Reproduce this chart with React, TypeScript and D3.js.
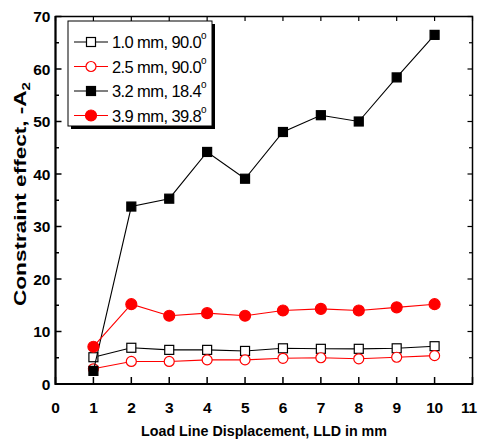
import React, { useRef, useEffect } from 'react';
import * as d3 from 'd3';

// values
const lld = [1, 2, 3, 4, 5, 6, 7, 8, 9, 10];
const s10_90 = [5.1, 6.9, 6.5, 6.5, 6.3, 6.8, 6.7, 6.7, 6.8, 7.2];
const s25_90 = [2.9, 4.3, 4.3, 4.6, 4.6, 4.9, 5.0, 4.8, 5.1, 5.4];
const s32_18 = [2.5, 33.8, 35.3, 44.2, 39.1, 48.0, 51.2, 50.0, 58.4, 66.5];
const s39_40 = [7.1, 15.2, 13.0, 13.5, 13.0, 14.0, 14.3, 14.0, 14.6, 15.2];
const seriesNames = ['1.0 mm, 90.0', '2.5 mm, 90.0', '3.2 mm, 18.4', '3.9 mm, 39.8'];
const xTicks = d3.range(0, 12);
const yTicks = d3.range(0, 80, 10);

const W = 479;
const H = 441;

export default function App() {
  const box = useRef<SVGSVGElement>(null);

  useEffect(() => {
    const svg = d3.select(box.current);
    svg.selectAll('*').remove();

    const x = d3.scaleLinear().domain([0, 11]).range([55.5, 472.5]);
    const y = d3.scaleLinear().domain([0, 70]).range([384, 16.5]);
    const font = 'Liberation Sans, Arial, sans-serif';

    const series = [
      { name: seriesNames[0], vals: s10_90, color: '#000', shape: 'square', fill: '#fff' },
      { name: seriesNames[1], vals: s25_90, color: '#ff0000', shape: 'circle', fill: '#fff' },
      { name: seriesNames[2], vals: s32_18, color: '#000', shape: 'square', fill: '#000' },
      { name: seriesNames[3], vals: s39_40, color: '#ff0000', shape: 'circle', fill: '#ff0000' },
    ];

    const drawMarker = (g, s, cx, cy) => {
      if (s.shape === 'square') {
        g.append('rect')
          .attr('x', cx - 4.5).attr('y', cy - 4.5)
          .attr('width', 9).attr('height', 9)
          .attr('fill', s.fill).attr('stroke', s.color).attr('stroke-width', 1.2);
      } else {
        g.append('circle')
          .attr('cx', cx).attr('cy', cy).attr('r', s.fill === '#fff' ? 5 : 5.5)
          .attr('fill', s.fill).attr('stroke', s.color).attr('stroke-width', 1.2);
      }
    };

    // ticks, all pointing inward
    const axes = svg.append('g');
    xTicks.forEach(t => {
      axes.append('line').attr('x1', x(t)).attr('x2', x(t)).attr('y1', 384).attr('y2', 377).attr('stroke', '#000').attr('stroke-width', 1.5);
      axes.append('line').attr('x1', x(t)).attr('x2', x(t)).attr('y1', 16.5).attr('y2', 21).attr('stroke', '#000').attr('stroke-width', 1.2);
      axes.append('text').attr('x', Math.min(x(t), W - 10)).attr('y', 413)
        .attr('text-anchor', 'middle').attr('font-family', font).attr('font-weight', 'bold').attr('font-size', 15.5)
        .attr('letter-spacing', -0.3)
        .text(t);
    });
    d3.range(0, 75, 5).forEach(t => {
      const major = t % 10 === 0;
      axes.append('line').attr('x1', 55.5).attr('x2', 55.5 + (major ? 6 : 3.5)).attr('y1', y(t)).attr('y2', y(t)).attr('stroke', '#000').attr('stroke-width', 1.5);
      axes.append('line').attr('x1', 472.5).attr('x2', 472.5 - (major ? 5 : 3.5)).attr('y1', y(t)).attr('y2', y(t)).attr('stroke', '#000').attr('stroke-width', 1.2);
    });
    yTicks.forEach(t => {
      axes.append('text').attr('x', 50).attr('y', y(t) + 5.5)
        .attr('text-anchor', 'end').attr('font-family', font).attr('font-weight', 'bold').attr('font-size', 15.5)
        .attr('letter-spacing', -0.3)
        .text(t);
    });
    axes.append('rect').attr('x', 55.5).attr('y', 16.5).attr('width', 417).attr('height', 367.5)
      .attr('fill', 'none').attr('stroke', '#000').attr('stroke-width', 1.5);
    axes.append('line').attr('x1', 55.5).attr('x2', 55.5).attr('y1', 16).attr('y2', 385).attr('stroke', '#000').attr('stroke-width', 2);
    axes.append('line').attr('x1', 55).attr('x2', 473).attr('y1', 384).attr('y2', 384).attr('stroke', '#000').attr('stroke-width', 2);

    // data
    const line = d3.line<number>().x((d, i) => x(lld[i])).y(d => y(d));
    series.forEach(s => {
      const g = svg.append('g');
      g.append('path').attr('d', line(s.vals)).attr('fill', 'none').attr('stroke', s.color).attr('stroke-width', 1.1);
      s.vals.forEach((v, i) => drawMarker(g, s, x(lld[i]), y(v)));
    });

    // legend
    const lg = svg.append('g');
    lg.append('rect').attr('x', 71).attr('y', 24).attr('width', 144).attr('height', 105).attr('fill', '#000');
    lg.append('rect').attr('x', 68).attr('y', 21).attr('width', 144).attr('height', 105)
      .attr('fill', '#fff').attr('stroke', '#000').attr('stroke-width', 1);
    series.forEach((s, i) => {
      const cy = 42 + i * 24.5;
      lg.append('line').attr('x1', 74).attr('x2', 108).attr('y1', cy).attr('y2', cy).attr('stroke', s.color).attr('stroke-width', 1.1);
      drawMarker(lg, s, 91, cy);
      const t = lg.append('text').attr('x', 112).attr('y', cy + 6)
        .attr('font-family', font).attr('font-size', 16.5).attr('letter-spacing', -0.6);
      t.append('tspan').text(s.name);
      t.append('tspan').attr('font-size', 10).attr('dy', -9).text('o');
    });

    // axis titles
    svg.append('text').attr('x', 264).attr('y', 436).attr('text-anchor', 'middle')
      .attr('font-family', font).attr('font-weight', 'bold').attr('font-size', 15)
      .attr('textLength', 246).attr('lengthAdjust', 'spacingAndGlyphs')
      .text('Load Line Displacement, LLD in mm');
    const yt = svg.append('text').attr('transform', 'translate(26,194) rotate(-90)').attr('text-anchor', 'middle')
      .attr('font-family', font).attr('font-weight', 'bold').attr('font-size', 16.5)
      .attr('textLength', 224).attr('lengthAdjust', 'spacingAndGlyphs');
    yt.append('tspan').text('Constraint effect, -A');
    yt.append('tspan').attr('font-size', 11).attr('dy', 4).text('2');
  }, []);

  return (
    <div>
      <svg ref={box} width={W} height={H} style={{ position: 'absolute', left: 0, top: 0, background: '#fff' }} />
    </div>
  );
}
